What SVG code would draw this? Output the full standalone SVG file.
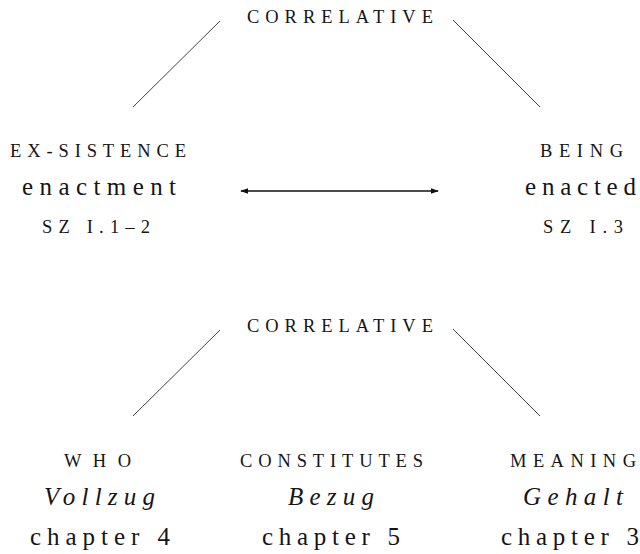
<svg xmlns="http://www.w3.org/2000/svg" width="640" height="554" viewBox="0 0 640 554">
<defs>
<style>
text{font-family:"Liberation Serif","DejaVu Serif",serif;fill:#151515}
.sc{font-size:18.5px}
.lg{font-size:25px}
.it{font-style:italic}
.ln{stroke:#444;stroke-width:1;fill:none}
.ar{stroke:#111;stroke-width:1.3;fill:none}
</style>
<marker id="ah" viewBox="0 0 10 10" refX="9" refY="5" markerWidth="8" markerHeight="8" markerUnits="userSpaceOnUse" orient="auto-start-reverse">
<path d="M0,1.5 L10,5 L0,8.5 Z" fill="#111"/>
</marker>
</defs>
<rect width="640" height="554" fill="#fff"/>
<g id="connectors">
<line class="ln" x1="220" y1="21" x2="133" y2="107"/>
<line class="ln" x1="453" y1="20" x2="540" y2="107"/>
<line class="ar" x1="241" y1="191" x2="438" y2="191" marker-start="url(#ah)" marker-end="url(#ah)"/>
<line class="ln" x1="220" y1="330" x2="133" y2="416"/>
<line class="ln" x1="453" y1="329" x2="540" y2="416"/>
</g>
<g id="correlative-top"><text class="sc" x="247" y="23" textLength="186" lengthAdjust="spacing">CORRELATIVE</text></g>
<g id="ex-sistence">
<text class="sc" x="10" y="157" textLength="176" lengthAdjust="spacing">EX-SISTENCE</text>
<text class="lg" x="22" y="195" textLength="154" lengthAdjust="spacing">enactment</text>
<text class="sc" x="42" y="233" textLength="108" lengthAdjust="spacing">SZ I.1–2</text>
</g>
<g id="being">
<text class="sc" x="540" y="157" textLength="83" lengthAdjust="spacing">BEING</text>
<text class="lg" x="525" y="195" textLength="111" lengthAdjust="spacing">enacted</text>
<text class="sc" x="543" y="233" textLength="80" lengthAdjust="spacing">SZ I.3</text>
</g>
<g id="correlative-bottom"><text class="sc" x="247" y="332" textLength="186" lengthAdjust="spacing">CORRELATIVE</text></g>
<g id="who">
<text class="sc" x="64" y="467" textLength="67" lengthAdjust="spacing">WHO</text>
<text class="lg it" x="44" y="505" textLength="111" lengthAdjust="spacing">Vollzug</text>
<text class="lg" x="30" y="545" textLength="140" lengthAdjust="spacing">chapter 4</text>
</g>
<g id="constitutes">
<text class="sc" x="240" y="467" textLength="183" lengthAdjust="spacing">CONSTITUTES</text>
<text class="lg it" x="288" y="505" textLength="86" lengthAdjust="spacing">Bezug</text>
<text class="lg" x="262" y="545" textLength="138" lengthAdjust="spacing">chapter 5</text>
</g>
<g id="meaning">
<text class="sc" x="510" y="467" textLength="126" lengthAdjust="spacing">MEANING</text>
<text class="lg it" x="523" y="505" textLength="100" lengthAdjust="spacing">Gehalt</text>
<text class="lg" x="501" y="545" textLength="138" lengthAdjust="spacing">chapter 3</text>
</g>
</svg>
